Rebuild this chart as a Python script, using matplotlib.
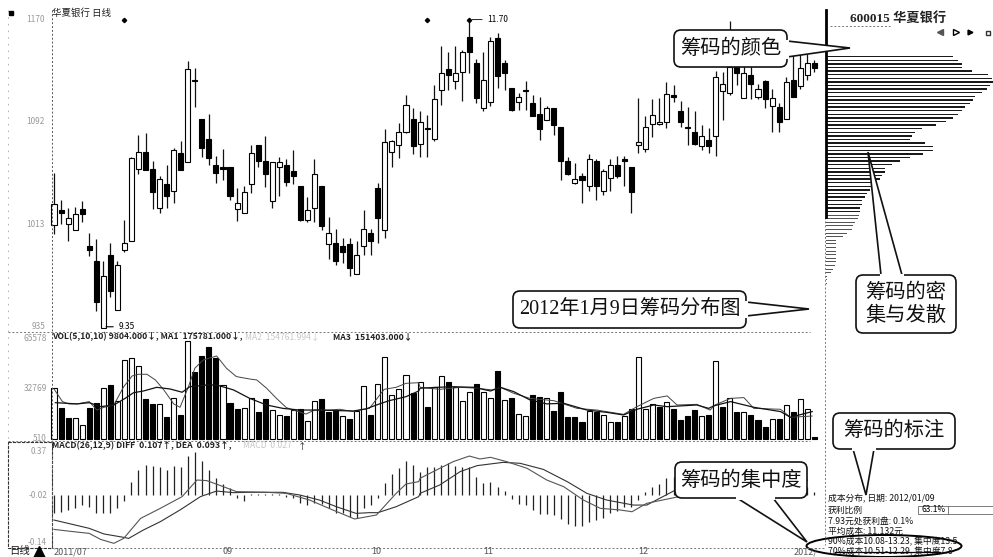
import matplotlib
matplotlib.use('Agg')
import matplotlib.pyplot as plt
from matplotlib.patches import FancyBboxPatch, Polygon, Ellipse, Rectangle

plt.rcParams['font.family'] = ['Noto Sans CJK SC', 'DejaVu Sans']

W, H = 993, 557

# one row per day: high, body top, body bottom, low
candle_high = [10.53,10.32,10.26,10.27,10.31,10.07,10.02,9.85,9.99,9.85,10.17,10.65,10.82,10.83,10.62,10.50,10.59,10.72,10.77,11.38,
    11.33,10.94,10.98,10.66,10.71,10.57,10.41,10.43,10.74,10.74,10.81,10.61,10.65,10.63,10.70,10.43,10.34,10.63,10.43,10.19,
    10.10,10.03,10.03,10.01,10.24,10.10,10.45,10.86,10.78,10.91,11.12,11.02,11.00,10.97,11.20,11.50,11.45,11.50,11.47,11.70,
    11.40,11.45,11.57,11.60,11.39,11.18,11.14,11.23,11.12,11.11,11.04,11.02,10.88,10.65,10.60,10.53,10.67,10.63,10.56,10.63,
    10.66,10.66,10.57,11.10,10.96,11.09,11.10,11.22,11.20,11.08,11.03,11.00,10.89,10.87,11.31,11.30,11.69,11.47,11.39,11.35,
    11.21,11.24,11.17,11.06,11.26,11.43,11.44,11.44,11.39]
candle_top = [10.29,10.24,10.18,10.21,10.25,9.97,9.85,9.74,9.90,9.82,9.99,10.64,10.69,10.69,10.56,10.48,10.44,10.70,10.68,11.32,
    11.24,10.94,10.79,10.59,10.57,10.57,10.30,10.38,10.68,10.74,10.62,10.61,10.61,10.59,10.54,10.43,10.24,10.52,10.43,10.07,
    9.99,9.97,9.98,9.90,10.10,10.07,10.41,10.76,10.77,10.84,11.05,10.94,10.92,10.87,11.09,11.29,11.32,11.29,11.45,11.57,
    11.37,11.24,11.54,11.56,11.37,11.18,11.11,11.16,11.06,10.98,11.02,11.02,10.88,10.62,10.48,10.50,10.63,10.62,10.54,10.59,
    10.59,10.63,10.57,10.76,10.88,10.97,10.92,11.13,11.12,11.00,10.88,10.84,10.81,10.78,11.26,11.21,11.34,11.34,11.29,11.28,
    11.17,11.23,11.10,11.03,11.22,11.24,11.33,11.37,11.37]
candle_bottom = [10.13,10.22,10.14,10.09,10.21,9.94,9.54,9.34,9.62,9.48,9.94,10.01,10.56,10.55,10.38,10.26,10.35,10.39,10.55,10.61,
    11.23,10.72,10.64,10.53,10.56,10.35,10.25,10.22,10.44,10.62,10.52,10.31,10.57,10.46,10.50,10.17,10.17,10.26,10.12,9.98,
    9.85,9.92,9.80,9.75,9.97,10.01,10.18,10.09,10.69,10.74,10.84,10.73,10.75,10.86,10.79,11.16,11.28,11.23,11.30,11.45,
    11.10,11.02,11.07,11.27,11.29,11.01,11.07,11.15,10.96,10.86,10.93,10.89,10.62,10.52,10.45,10.47,10.43,10.43,10.39,10.49,
    10.50,10.62,10.38,10.74,10.71,10.90,10.90,10.92,11.11,10.92,10.87,10.75,10.73,10.73,10.81,11.15,11.14,11.29,11.10,11.21,
    11.11,11.09,11.04,10.92,10.94,11.11,11.19,11.28,11.33]
candle_low = [10.06,10.14,10.01,10.09,10.15,9.89,9.47,9.34,9.58,9.48,9.92,10.01,10.52,10.55,10.25,10.22,10.26,10.30,10.55,10.61,
    11.03,10.65,10.59,10.45,10.47,10.32,10.16,10.22,10.37,10.57,10.42,10.26,10.35,10.43,10.44,10.16,10.15,10.15,10.09,9.87,
    9.82,9.84,9.74,9.75,9.90,9.90,9.99,10.03,10.57,10.64,10.83,10.67,10.65,10.65,10.77,11.05,11.16,11.17,11.08,11.29,
    11.06,11.00,11.04,11.18,11.16,11.00,11.01,11.01,10.96,10.78,10.93,10.82,10.47,10.51,10.44,10.30,10.39,10.32,10.36,10.39,
    10.49,10.43,10.22,10.68,10.69,10.80,10.89,10.87,11.07,10.88,10.74,10.74,10.70,10.68,10.66,10.93,11.12,11.20,11.10,11.09,
    11.09,11.02,10.84,10.84,10.94,11.11,11.17,11.24,11.30]
candle_colour = ("WBWWBBBWBWWWWBBWBWBW" "WBBBBBWWWBBWWBBBWWBW" "BBBWWBBWWWWBWBWWBWWB"
                 "BWWBBBWBBBWBBBWBWBWW" "BBBWWWWWBBBBWBWWWBWB" "WBWBWBWWB")

volume = [33100,20000,14000,14000,9200,20000,23700,33100,35200,25000,51500,53000,47600,25900,22900,22600,14600,27000,15700,63900,
    43900,54300,59800,52600,35200,23700,19600,20500,26600,17700,25900,19000,15700,15000,19000,19600,11800,24800,25900,17400,
    18300,15300,13100,18300,34800,15500,35900,53700,28700,32400,41700,29800,37400,
    21100,34100,41300,37400,33700,24800,30500,35900,30500,26500,44300,25500,26500,16100,15000,28700,27600,26800,18300,30500,
    14600,14600,11400,18300,17400,15700,10900,11400,15300,19600,53200,19600,22900,20700,24400,19600,12400,15300,18700,15000,
    15700,50900,21100,26500,17400,17900,15500,12400,8100,12900,13100,22000,17600,25900,19400,1600]
volume_colour = ("WBBWWBBWBWWWWBBWBWBW" "BBBBWBBWWBBWWBWBWWBB" "BWBWWBWWWWWBW"
                 "BWWBWWWBWWBWBWWBBWBB" "BBBWBWWBWBWWWBWBBBBW" "BWBWBWBBBWBWBWWB")

ma_a_day = [0,1.2,2.1,3.3,5,6.1,7.1,8.5,9.9,11.1,12,13.2,14.4,15.6,17,17.9,19.1,20,21.2,23.1,24.5,25.9,27.8,28.8,30.2,31.6,33,34,35.8,37,38.9,40.6,42.5,43.9,44.8,46.9,48.6,50,51.8,
    52,54.8,57.7,60.1,62.2,63.4,65.3,67.6,71,74.3,77.1,80.9,82.8,85.2,87.1,88.5,91.3,93.2,93.9,96.1,98,99.4,103.2,104.6,107.7]
ma_a = [32600,24400,22900,22900,24400,18900,20700,22200,34100,41100,42200,42200,38500,32000,22900,20700,34100,46100,51500,54100,46100,40700,39100,38500,33100,26500,20500,18900,16300,18900,18900,19400,17900,19400,20000,32400,33700,36300,36700,
    33700,32400,33700,33100,32000,33700,29800,26500,25000,20000,18900,16100,21100,26500,28100,22200,22600,18900,22200,26500,27000,20000,19400,14200,15000]
ma_b_day = [0.2,3.3,5,6.6,8.5,10.1,11.3,12.7,14.6,16.5,18.2,19.3,21.7,23.1,25.5,27.8,30.2,32.5,34.9,37.7,40.6,42.5,44.3,45.8,47.6,50,51.8,
    52,54.4,56.7,59.6,62,63.4,65.3,67.6,70,72.4,75.7,78.5,80.9,82.8,85.2,87.1,91.3,93,93.7,96.1,99.4,103.2,104.6,107.7]
ma_b = [23700,22900,23700,21100,22200,26500,30200,31300,33700,32600,30500,34100,35200,35200,32000,26500,22200,20000,18900,18900,18500,18300,19600,22200,25000,27600,31300,
    33100,33700,34100,33700,31300,33700,30900,25500,22900,23300,18900,17400,15700,19400,22200,21100,22200,20000,21600,24400,20700,17900,14200,17900]

macd_hist = [-.157,-.143,-.128,-.108,-.086,-.100,-.151,-.157,-.157,-.108,-.048,.114,.214,.257,.248,.242,.214,.248,.237,.333,
    .371,.294,.214,.143,.094,.057,-.029,-.051,.009,.006,.006,.006,.006,-.020,-.029,-.066,-.086,-.071,-.077,-.108,
    -.157,-.157,-.185,-.200,-.108,-.086,-.029,.105,.180,.228,.291,.257,.200,.242,.242,.257,.271,.248,.242,.237,
    .151,.100,.114,.071,.037,-.037,-.077,-.086,-.128,-.162,-.162,-.171,-.208,-.248,-.262,-.262,-.228,-.214,-.200,-.151,
    -.134,-.100,-.100,-.043,.023,.071,.091,.143,.157,.157,.185,.200,.214,.200,.185,.157,.128,.114,.100,.100,
    .086,.071,.071,.057,.043,.043,.043,.071,.028]
dea_day = [0,2.4,5,7.1,9.9,10.6,12.7,15.1,17.9,20.8,23.1,25.5,27.8,32.5,34.9,37.7,40.1,42.9,44.8,46,48.6,51.8,
    52,54.8,57.7,60.1,63.8,66.2,69.5,72.9,75.7,78.5,82.3,84.2,88.3,96,104,107]
dea = [-.214,-.248,-.285,-.333,-.362,-.371,-.299,-.228,-.128,-.014,.034,.020,.023,.023,0,-.043,-.100,-.157,-.151,-.151,-.100,-.014,
    .014,.086,.200,.251,.279,.271,.219,.114,.014,-.043,-.086,-.086,.043,.171,.171,.128]
diff_day = [0,2.4,5,6.6,8.5,9.9,12.3,15.1,18.2,20.3,21.7,23.8,25.9,30.2,33,36.3,39.6,42.7,45.8,48.6,50,51.8,
    52,54.8,56.7,59,60.5,62,64.3,67.2,70,72.4,75.2,77.6,80.4,82.1,84.2,88.3,96,104,107]
diff = [-.294,-.311,-.328,-.379,-.413,-.371,-.200,-.114,-.014,.128,.123,.077,.029,.023,.014,-.043,-.128,-.205,-.171,.014,.094,.114,
    .143,.228,.285,.333,.308,.322,.285,.228,.128,.071,-.043,-.114,-.128,-.143,-.071,-.020,.13,.15,.123]

# cost distribution, one value per price row from the top
chips = [127,132,136,136,146,162,166,167,164,161,156,149,147,144,139,136,132,127,120,110,96,89,86,84,99,107,107,97,84,74,66,59,59,56,54,51,49,44,41,39,36,36,34,34,
    35,34,31,29,28,23,19,12,12,12,12,12,12,12,11,9,7,3,3,3,2,2,2,2]
chip_solid_rows = 44

price_ticks = [11.70, 10.92, 10.13, 9.35]
price_labels = ['1170', '1092', '1013', '935']
volume_ticks = [65578, 32769, 510]
macd_ticks = [0.37, 0.0, -0.41]
macd_labels = ['0.37', '-0.02', '-0.14']
date_days = [0, 24, 45, 61, 83, 105]
date_labels = ['2011/07', '09', '10', '11', '12', '2012/']

fig = plt.figure(figsize=(W / 100, H / 100), dpi=100, facecolor='white')


def panel(top, bottom):
    ax = fig.add_axes([40 / W, 1 - bottom / H, 786 / W, (bottom - top) / H])
    ax.set_xlim(-1.99, 109.66)
    ax.axis('off')
    return ax


def hollow_bars(ax, days, heights, bottoms, colours, width):
    for d, h, b, c in zip(days, heights, bottoms, colours):
        ax.bar(d, h, bottom=b, width=width, facecolor='black' if c == 'B' else 'white',
               edgecolor='black', linewidth=0.8, zorder=3)


days = list(range(len(candle_high)))

# price
ax_price = panel(0, 332)
ax_price.set_ylim(9.31, 11.85)
ax_price.vlines(days, candle_low, candle_high, color='#111111', lw=0.9, zorder=2)
hollow_bars(ax_price, days, [t - b for t, b in zip(candle_top, candle_bottom)], candle_bottom, candle_colour, 0.72)
ax_price.plot([10, 53, 59], [11.70, 11.70, 11.70], 'D', color='black', ms=2.2, zorder=3)
ax_price.annotate('11.70', xy=(59, 11.70), xytext=(61.6, 11.70), fontsize=6, va='center',
                  arrowprops=dict(arrowstyle='-', lw=0.6))
ax_price.annotate('9.35', xy=(7, 9.35), xytext=(9.2, 9.35), fontsize=6, va='center',
                  arrowprops=dict(arrowstyle='-', lw=0.8))

# volume
ax_vol = panel(333, 441)
ax_vol.set_ylim(-1250, 69060)
hollow_bars(ax_vol, days, volume, [0] * len(volume), volume_colour, 0.72)
ax_vol.plot(ma_a_day, ma_a, color='#444444', lw=0.7, zorder=4)
ax_vol.plot(ma_b_day, ma_b, color='#111111', lw=0.9, zorder=4)

# macd
ax_macd = panel(442, 548)
ax_macd.set_ylim(-0.453, 0.453)
ax_macd.vlines(days, 0, macd_hist, color='#222222', lw=0.9)
ax_macd.plot(dea_day, dea, color='#333333', lw=0.8)
ax_macd.plot(diff_day, diff, color='#555555', lw=0.8)

# chips
ax_chip = fig.add_axes([826 / W, 1 - 340 / H, 167 / W, 340 / H])
ax_chip.set_xlim(0, 167)
ax_chip.set_ylim(78.7, -15.75)
ax_chip.axis('off')
for row, c in enumerate(chips):
    solid = row < chip_solid_rows
    ax_chip.barh(row, c, height=0.36 if solid else 0.3, left=0 if solid else -2,
                 color='#1a1a1a' if solid else '#555555')

# everything else is page furniture, in picture pixels
page = fig.add_axes([0, 0, 1, 1], facecolor='none', zorder=10)
page.set_xlim(0, W)
page.set_ylim(H, 0)
page.axis('off')

dots = dict(color='#777777', lw=0.7, ls=(0, (2, 2)))
page.plot([8, 810], [332, 332], **dots)
page.plot([8, 810], [441, 441], **dots)
page.plot([52, 825], [548, 548], **dots)
page.plot([52, 52], [10, 548], color='#555555', lw=0.7, ls=(0, (2, 2)))
page.plot([8, 8], [10, 442], color='#aaaaaa', lw=0.6, ls=(0, (2, 6)))
page.plot([825, 825], [217, 545], **dots)
page.plot([830, 890], [26, 26], **dots)
page.plot([826, 826], [10, 217], color='black', lw=2)
page.add_patch(Rectangle((8, 442), 44, 106, fill=False, ec='#333333', lw=0.8, ls=(0, (3, 1))))

grey = '#9a9a9a'
for p, lab in zip(price_ticks, price_labels):
    page.text(45, H - ax_price.transData.transform((0, p))[1], lab, ha='right', va='center', fontsize=6, color=grey)
for v in volume_ticks:
    page.text(47, H - ax_vol.transData.transform((0, v))[1], str(v), ha='right', va='center', fontsize=6, color=grey)
for m, lab in zip(macd_ticks, macd_labels):
    page.text(47, H - ax_macd.transData.transform((0, m))[1], lab, ha='right', va='center', fontsize=6, color=grey)
for d, lab in zip(date_days, date_labels):
    page.text(ax_price.transData.transform((d, 10))[0], 552, lab, ha='left', va='center', fontsize=6.5, color='#555555')

page.plot([11], [13], 's', color='black', ms=3)
page.text(52, 13, '华夏银行 日线', fontsize=6.8, va='center', color='#222222')
page.text(52, 337, 'VOL(5,10,10) 9804.000↓, MA1  175781.000↓,', fontsize=6.2, va='center', weight='bold', color='#222222')
page.text(245, 337, 'MA2  154761.994↓', fontsize=6.2, va='center', color='#c8c8c8')
page.text(333, 337, 'MA3  151403.000↓', fontsize=6.2, va='center', weight='bold', color='#222222')
page.text(52, 446, 'MACD(26,12,9) DIFF  0.107↑, DEA  0.093↑,', fontsize=6.2, va='center', weight='bold', color='#222222')
page.text(243, 446, 'MACD  0.027', fontsize=6.2, va='center', color='#c8c8c8')
page.text(298, 446, '↑', fontsize=6.2, va='center', color='#222222')
page.text(9, 551, '日线', fontsize=7.5, va='center', color='#222222')
page.plot([39], [552], '^', color='black', ms=8)

page.text(850, 19, '600015 华夏银行', fontsize=9.5, va='center', weight='bold',
          family=['Liberation Serif', 'Noto Sans CJK SC'], color='#222222')
page.plot([940], [32], '<', color='#555555', ms=4.5)
page.plot([956], [32], '>', mfc='white', mec='black', ms=4.5)
page.plot([970], [32], '>', color='black', ms=3.5)
page.plot([988], [33], 's', mfc='white', mec='#333333', ms=3.5)

info_lines = ['成本分布, 日期: 2012/01/09', '获利比例', '7.93元处获利盘: 0.1%', '平均成本: 11.132元',
              '90%成本10.08-13.23, 集中度13.5', '70%成本10.51-12.29, 集中度7.8']
info_y = [499, 510, 521, 531, 542, 552]
for lab, y in zip(info_lines, info_y):
    page.text(828, y, lab, fontsize=6.3, va='center', color='#111111')
page.plot([835, 940], [552, 552], color='black', lw=0.9)
page.add_patch(Rectangle((918, 506), 75, 8, fill=False, ec='#666666', lw=0.6))
page.plot([948, 948], [506, 514], color='#666666', lw=0.6)
page.text(921, 510, '63.1%', fontsize=6, va='center')
page.add_patch(Ellipse((884, 546), 155, 22, fill=False, ec='black', lw=1.4))


def callout(left, top, right, bottom, base, tip, lines, size=14.6, family=None):
    page.add_patch(FancyBboxPatch((left + 5, top + 5), right - left - 10, bottom - top - 10,
                                  boxstyle='round,pad=5,rounding_size=7', fc='white', ec='#111111', lw=1.2, zorder=20))
    page.add_patch(Polygon([base[0], tip, base[1]], closed=False, fc='white', ec='#111111', lw=1.2, zorder=21))
    page.plot([base[0][0], base[1][0]], [base[0][1], base[1][1]], color='white', lw=2.2, zorder=22)
    page.text((left + right) / 2, (top + bottom) / 2, lines, ha='center', va='center', fontsize=size,
              linespacing=1.1, zorder=23, color='#111111', family=family or ['Noto Sans CJK SC', 'DejaVu Sans'])


callout(674, 30, 787, 67, [(787, 41), (787, 57)], (850, 48), '筹码的颜色')
callout(513, 291, 746, 328, [(746, 302), (746, 316)], (809, 309), '2012年1月9日筹码分布图', size=14.5,
        family=['Liberation Serif', 'Noto Sans CJK SC'])
callout(856, 275, 956, 333, [(881, 275), (902, 275)], (868, 152), '筹码的密\n集与发散')
callout(833, 413, 955, 449, [(853, 449), (874, 449)], (866, 495), '筹码的标注')
callout(675, 462, 807, 498, [(737, 498), (773, 498)], (807, 542), '筹码的集中度')

fig.savefig('out.png', dpi=100)
